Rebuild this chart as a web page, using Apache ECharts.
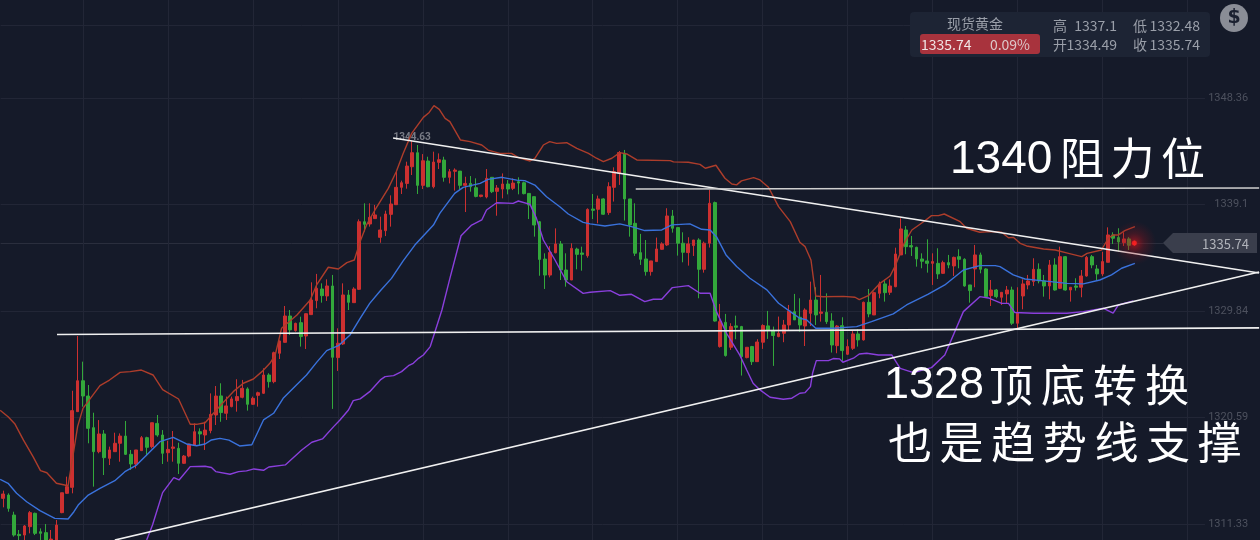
<!DOCTYPE html>
<html><head><meta charset="utf-8">
<style>html,body{margin:0;padding:0;background:#151a29}#c{width:1260px;height:540px}</style>
<script src="https://cdn.jsdelivr.net/npm/echarts@6/dist/echarts.min.js"></script>
</head><body><div id="c"></div>
<script>
// [open, close, low, high]
const candles = [
[1313.54,1313.92,1312.76,1314.21],[1313.83,1312.67,1312.38,1313.98],[1312.09,1310.35,1310.21,1312.38],[1310.41,1310.3,1309.9,1310.79],[1310.35,1311.14,1309.9,1311.22],
[1311.08,1312.3,1310.5,1312.44],[1312.24,1310.5,1310.35,1312.3],[1310.64,1310.5,1309.6,1310.93],[1310.56,1309.8,1309.3,1311.31],[1309.7,1310.0,1309.6,1310.79],
[1309.35,1311.22,1309.3,1311.66],[1312.3,1314.03,1312.25,1314.03],[1313.98,1314.56,1313.92,1315.43],[1314.5,1321.17,1313.98,1322.9],[1321.08,1323.77,1321.08,1327.66],
[1323.77,1322.44,1321.51,1325.43],[1322.44,1319.63,1318.33,1323.4],[1319.69,1317.6,1314.56,1320.99],[1317.6,1319.14,1317.46,1320.35],[1319.14,1317.08,1315.57,1319.48],
[1317.02,1317.75,1316.44,1318.04],[1317.6,1318.33,1317.6,1319.25],[1318.33,1318.96,1316.73,1319.19],[1318.96,1317.37,1317.31,1320.27],[1317.37,1316.53,1316.01,1317.75],
[1316.53,1317.75,1316.15,1317.75],[1317.69,1318.82,1317.69,1318.96],[1318.82,1317.98,1317.22,1318.9],[1318.04,1320.12,1317.89,1320.12],[1320.06,1319.05,1318.9,1320.79],
[1319.05,1317.46,1316.53,1319.48],[1317.51,1317.8,1316.73,1318.56],[1317.89,1318.01,1316.73,1319.4],[1317.89,1316.59,1315.66,1318.38],[1316.59,1317.22,1316.53,1317.31],
[1317.22,1318.27,1317.11,1318.27],[1318.18,1319.34,1318.18,1320.06],[1319.34,1319.14,1318.18,1319.63],[1319.05,1319.48,1317.75,1320.21],[1319.43,1320.85,1319.2,1322.67],
[1320.79,1322.44,1319.92,1323.31],[1322.45,1321.0,1320.2,1323.55],[1320.94,1321.58,1320.36,1322.39],[1321.52,1322.19,1321.46,1322.39],[1322.04,1322.39,1321.08,1323.9],
[1322.33,1323.11,1322.24,1323.84],[1323.06,1321.72,1321.17,1323.2],[1321.72,1322.24,1321.66,1322.39],[1322.5,1322.73,1321.52,1322.82],[1322.68,1324.27,1322.62,1324.85],
[1324.27,1323.69,1323.17,1324.42],[1323.69,1326.21,1323.55,1326.3],[1326.16,1327.23,1325.66,1327.26],[1327.11,1329.4,1327.08,1330.27],[1329.4,1328.19,1327.75,1329.92],
[1328.13,1328.76,1328.04,1328.82],[1328.82,1327.61,1326.74,1329.34],[1327.66,1329.6,1326.53,1329.63],[1329.52,1330.79,1329.49,1332.33],[1330.74,1331.81,1330.07,1333.06],
[1331.75,1331.17,1330.56,1332.24],[1331.14,1332.01,1330.71,1332.59],[1332.01,1325.81,1321.32,1332.97],[1325.78,1327.03,1324.62,1328.33],[1326.97,1331.23,1326.88,1332.24],
[1331.23,1330.59,1329.92,1331.66],[1330.56,1331.75,1330.56,1331.9],[1331.72,1337.6,1331.66,1337.8],[1337.6,1337.37,1336.74,1339.2],[1337.4,1337.98,1337.17,1339.2],
[1337.87,1338.19,1337.84,1339.06],[1336.24,1336.88,1335.77,1338.04],[1336.82,1338.27,1336.35,1338.56],[1338.24,1339.14,1337.17,1339.89],[1339.08,1340.59,1339.05,1341.95],
[1340.59,1340.99,1340.01,1341.17],[1340.93,1342.44,1340.47,1342.82],[1342.38,1343.6,1341.66,1344.63],[1343.6,1340.76,1340.01,1344.27],[1340.76,1342.9,1340.44,1343.48],
[1342.88,1340.64,1340.59,1343.25],[1340.64,1342.79,1340.5,1343.69],[1342.76,1342.99,1342.18,1343.54],[1342.96,1341.46,1341.08,1343.25],[1341.46,1341.95,1340.93,1342.18],
[1341.98,1342.09,1340.3,1342.24],[1342.0,1340.76,1340.41,1342.0],[1340.76,1340.93,1338.44,1341.51],[1340.93,1340.64,1340.21,1341.57],[1340.56,1339.8,1339.72,1341.37],
[1339.8,1339.92,1339.72,1339.92],[1339.75,1341.37,1339.63,1342.18],[1341.46,1340.21,1340.09,1341.46],[1340.24,1340.53,1338.12,1340.79],[1340.44,1340.88,1339.63,1341.8],
[1340.88,1340.44,1339.98,1341.22],[1340.5,1340.96,1340.35,1341.37],[1341.08,1340.96,1339.98,1341.46],[1340.99,1340.04,1339.98,1341.08],[1340.06,1339.05,1337.83,1340.06],
[1339.78,1337.31,1336.3,1339.78],[1337.6,1334.32,1332.9,1337.66],[1334.35,1332.96,1331.75,1334.85],[1332.96,1334.93,1332.76,1335.48],[1334.9,1335.66,1334.85,1337.02],
[1335.66,1333.4,1332.53,1335.92],[1333.4,1332.53,1331.95,1334.85],[1332.53,1335.28,1332.53,1335.72],[1335.22,1334.76,1333.46,1335.34],[1334.88,1334.76,1333.34,1335.43],
[1334.64,1338.67,1334.47,1338.76],[1338.7,1338.59,1337.83,1340.01],[1338.68,1339.58,1337.46,1339.87],[1339.58,1338.25,1338.19,1339.64],[1338.39,1340.65,1338.19,1341.03],
[1340.59,1341.96,1339.35,1342.33],[1341.81,1343.61,1340.8,1343.75],[1343.55,1339.58,1337.7,1343.84],[1339.58,1337.32,1336.3,1339.58],[1337.46,1334.86,1334.62,1339.2],
[1334.91,1334.33,1333.84,1336.54],[1334.36,1333.26,1332.91,1336.01],[1333.26,1334.19,1332.91,1334.19],[1334.13,1335.23,1334.13,1336.22],[1335.2,1335.67,1335.15,1335.81],
[1335.58,1338.1,1335.49,1338.77],[1338.1,1337.03,1336.65,1338.62],[1337.09,1335.73,1334.65,1337.12],[1335.73,1334.94,1334.07,1336.68],[1334.91,1335.67,1333.78,1336.25],
[1335.52,1336.01,1334.62,1336.01],[1336.01,1333.46,1330.94,1336.16],[1333.46,1335.73,1333.17,1335.87],[1335.73,1339.2,1335.35,1340.36],[1339.26,1328.96,1328.91,1339.35],
[1326.74,1328.91,1326.65,1330.45],[1328.85,1325.96,1325.87,1329.58],[1326.68,1328.48,1326.45,1328.77],[1328.54,1328.42,1327.38,1329.43],[1328.48,1325.87,1324.22,1328.54],
[1325.78,1326.68,1325.72,1326.68],[1326.74,1325.43,1325.14,1326.8],[1325.43,1327.14,1325.43,1327.38],[1327.12,1328.57,1326.54,1328.68],[1328.54,1328.19,1327.41,1329.84],
[1328.13,1327.7,1325.06,1328.48],[1327.61,1327.9,1327.55,1329.35],[1327.9,1328.62,1327.12,1329.06],[1328.62,1329.84,1328.13,1330.36],[1329.78,1329.06,1329.06,1331.32],
[1329.29,1328.62,1328.04,1330.94],[1328.53,1329.92,1326.79,1330.07],[1329.63,1330.79,1328.53,1332.39],[1330.79,1329.49,1328.62,1331.9],[1329.63,1329.75,1328.91,1332.97],
[1329.72,1328.91,1328.71,1331.37],[1328.97,1326.88,1326.22,1329.64],[1326.82,1328.53,1326.16,1328.62],[1328.56,1326.39,1325.49,1329.29],[1326.07,1326.74,1326.01,1327.37],
[1326.59,1327.84,1326.45,1328.1],[1327.84,1327.32,1326.74,1328.24],[1327.32,1330.59,1327.26,1330.65],[1330.59,1329.58,1329.29,1331.75],[1329.49,1331.43,1329.49,1331.52],
[1331.37,1332.19,1330.94,1332.39],[1332.19,1331.43,1330.65,1332.53],[1331.46,1332.01,1331.23,1332.59],[1331.95,1334.79,1331.9,1335.34],[1334.71,1336.97,1334.71,1337.9],
[1336.88,1335.43,1334.77,1337.23],[1335.52,1335.4,1334.62,1336.36],[1335.37,1334.36,1333.69,1335.43],[1334.36,1334.16,1333.55,1334.85],[1334.19,1333.98,1333.17,1336.07],
[1333.98,1334.13,1332.1,1334.85],[1333.98,1333.06,1332.62,1335.29],[1333.11,1334.04,1333.06,1334.21],[1334.04,1333.84,1333.55,1334.71],[1333.75,1334.5,1332.88,1334.56],
[1334.56,1334.33,1333.55,1335.2],[1334.33,1332.01,1331.95,1334.42],[1332.1,1331.61,1330.56,1332.1],[1333.49,1334.71,1331.9,1335.58],[1334.71,1333.46,1333.11,1334.91],
[1333.49,1331.08,1331.08,1333.55],[1331.17,1331.66,1330.27,1332.53],[1331.66,1331.08,1330.94,1331.75],[1331.03,1331.46,1330.36,1331.46],[1331.32,1331.66,1330.45,1332.01],
[1331.66,1328.77,1328.62,1331.95],[1328.77,1329.69,1328.33,1331.9],[1331.14,1332.19,1329.98,1332.59],[1332.1,1332.45,1331.72,1332.97],[1332.39,1333.46,1332.01,1334.42],
[1333.46,1332.45,1332.24,1333.98],[1332.45,1332.01,1331.08,1332.97],[1332.01,1333.84,1330.85,1334.27],[1333.84,1331.66,1331.61,1334.42],[1331.81,1334.56,1331.75,1335.43],
[1334.56,1331.66,1331.61,1334.62],[1331.66,1331.9,1330.65,1331.9],[1332.01,1331.9,1331.61,1332.68],[1331.9,1332.88,1331.03,1333.4],[1332.88,1334.5,1332.82,1334.62],
[1334.56,1333.84,1333.55,1334.71],[1333.49,1333.06,1332.53,1333.84],[1333.06,1334.13,1332.88,1334.98],[1334.07,1336.45,1334.07,1337.11],[1336.45,1336.16,1335.66,1336.68],
[1336.22,1335.84,1335.0,1337.03],[1335.78,1336.1,1335.49,1336.68],[1336.1,1335.55,1335.14,1336.25],[1335.6,1335.74,1335.49,1335.95]
];
// bands: [bar number, price]
const upperBand = [[-0.6,1321.2],[0.9,1320.64],[2.2,1320.0],[3.8,1318.6],[5.6,1317.17],[7,1315.95],[8.2,1315.77],[10,1314.85],[12.2,1314.64],[13,1316.9],[14,1319.8],[15,1321.37],[18.2,1323.34],[20,1323.83],[22,1324.5],[23.9,1324.56],[26,1324.7],[28.2,1324.27],[30,1323.0],[33,1322.18],[35.2,1319.98],[36.4,1319.98],[38,1320.12],[39,1320.64],[40.8,1321.57],[43.3,1322.82],[45.2,1323.55],[47.1,1323.92],[48.7,1324.56],[50.2,1325.29],[51.2,1326.0],[52.4,1328.33],[55.3,1329.49],[57.8,1330.79],[59,1332.1],[61.2,1333.64],[63.1,1333.49],[64.7,1334.04],[66.1,1334.27],[67.2,1335.87],[68.4,1337.32],[70,1338.62],[72.5,1340.5],[74,1341.95],[75.3,1343.54],[76.9,1345.28],[79.1,1346.67],[80.2,1347.1],[81.1,1347.69],[82.1,1347.37],[83.2,1346.59],[84.1,1346.3],[86.1,1344.7],[87.9,1344.56],[90.1,1344.27],[91.3,1343.83],[93.5,1343.54],[95.7,1343.54],[97,1343.17],[99.2,1342.88],[100.1,1343.11],[101.7,1344.27],[102.9,1344.56],[104.2,1344.41],[106.1,1344.47],[108,1343.98],[110.2,1343.55],[111.7,1343.12],[113,1342.83],[114.6,1343.12],[116.1,1343.61],[117.4,1343.49],[119.3,1342.97],[125.6,1342.91],[126.2,1342.8],[129,1342.77],[131.2,1342.59],[132.2,1342.25],[134.2,1342.51],[135.9,1341.38],[137.2,1340.88],[138.1,1340.8],[139,1341.15],[141.3,1341.43],[142.5,1341.23],[144.1,1340.6],[146,1338.91],[148.2,1337.61],[150,1335.81],[151,1335.43],[152.1,1334.27],[153,1331.14],[154.4,1331.08],[158.2,1331.11],[160.4,1331.03],[161.2,1330.82],[162.9,1331.17],[165.1,1332.24],[167,1332.88],[167.9,1333.69],[169.8,1335.87],[171.1,1336.88],[173.3,1337.6],[174.8,1338.13],[176.1,1338.13],[177.2,1338.27],[180.2,1337.6],[181.4,1337.03],[183.9,1336.68],[185.8,1336.74],[188,1336.68],[189.3,1336.21],[190.2,1336.24],[191.5,1335.72],[192.7,1335.49],[195.9,1335.23],[198.1,1335.14],[200.6,1334.85],[203.1,1334.56],[204.1,1334.85],[206.8,1335.14],[208.1,1336.16],[209,1336.45],[210,1336.45],[211.2,1336.82],[213.1,1337.17]];
const middleBand = [[-0.6,1315.2],[0.9,1314.85],[2.5,1313.98],[4.4,1313.25],[6.9,1312.47],[9.7,1311.8],[12.2,1311.75],[13.3,1312.38],[14.1,1312.96],[16,1313.83],[18.2,1314.41],[21,1315.08],[22.9,1315.86],[25.1,1316.44],[27,1317.31],[29.5,1318.47],[32,1318.85],[34.5,1318.27],[36.4,1318.12],[38,1318.27],[39.2,1318.62],[40.8,1318.76],[42.5,1318.6],[44.5,1318.1],[46.8,1318.2],[49,1320.36],[50.9,1320.94],[52.7,1322.24],[55.2,1323.4],[57.1,1324.27],[59,1325.37],[60.9,1326.39],[63.1,1326.82],[65.3,1327.75],[67.2,1329.2],[69,1330.5],[71,1331.6],[73.1,1332.67],[75.3,1334.2],[77.5,1335.57],[81,1337.31],[82.2,1338.32],[85,1340.06],[86.6,1340.59],[89.8,1340.93],[91.3,1341.28],[93.9,1341.46],[96.7,1341.22],[98.2,1341.17],[100.1,1340.79],[102.3,1339.77],[104.8,1338.9],[106.4,1338.27],[109.2,1337.54],[110.5,1337.41],[113.3,1337.23],[116.1,1337.41],[118.3,1337.17],[120.8,1336.83],[124,1336.88],[125.9,1337.32],[129.3,1337.41],[131.5,1336.94],[133.1,1336.88],[134.3,1336.3],[136.1,1334.71],[138.1,1333.7],[140.6,1332.68],[143.8,1331.67],[146,1330.51],[148.8,1329.58],[150,1329.2],[151.3,1329.06],[153,1328.33],[156.3,1328.33],[160.7,1328.48],[163.5,1328.91],[167.6,1329.58],[170.1,1330.36],[174.2,1331.3],[177.3,1332.1],[180.8,1333.4],[183.9,1333.78],[186.8,1333.78],[187.7,1333.69],[190.2,1332.97],[192.4,1332.62],[195.9,1332.45],[200.3,1332.24],[203.4,1332.19],[206.5,1332.53],[208.7,1332.97],[210.6,1333.55],[213.1,1333.98]];
const lowerBand = [[27,1309.93],[28.1,1311.23],[30,1314.04],[32.1,1315.35],[33.1,1315.14],[35.2,1316.3],[38,1316.33],[39.2,1316.22],[40,1315.87],[42.7,1315.64],[44.3,1315.87],[45.8,1315.93],[47.2,1316.1],[49,1315.98],[50,1316.27],[53.1,1316.45],[56.2,1317.75],[58.1,1318.42],[60.1,1318.71],[62.2,1319.78],[63.4,1320.36],[65,1321.23],[65.9,1322.04],[67.2,1322.19],[69,1322.82],[71,1323.84],[71.9,1324.13],[73.5,1324.21],[75,1324.56],[76.3,1325.08],[77.2,1325.29],[78.2,1325.72],[79.1,1326.01],[80.4,1326.74],[82.6,1329.92],[84.1,1332.67],[86.2,1336.38],[88.2,1337.31],[90.1,1337.75],[91,1338.62],[92.9,1339.25],[96,1339.19],[97,1339.4],[99.2,1339.11],[100.4,1337.89],[101.7,1336.01],[103.9,1334.27],[106.1,1332.38],[109.2,1331.37],[110.5,1331.46],[114.3,1331.61],[116.1,1331.2],[118.3,1331.29],[120.8,1330.65],[122.4,1330.86],[124,1330.86],[126,1331.87],[129,1332.04],[131.2,1331.38],[133.1,1331.38],[134.3,1329.78],[136.2,1327.9],[138.7,1326],[140,1324.71],[141.2,1323.55],[142.5,1322.97],[144.4,1322.33],[146.9,1322.16],[148.5,1322.25],[150,1322.68],[151,1322.74],[152,1323.26],[152.4,1324.42],[153.1,1325.52],[155.4,1325.52],[156.3,1325.7],[157.5,1325.67],[158.1,1325.38],[160.1,1325.73],[161.2,1326.1],[162.6,1326.16],[164.8,1326.01],[167.3,1326.01],[168.9,1324.85],[171.4,1324.48],[174.8,1324.91],[177.3,1326.01],[180.8,1329.78],[183.9,1331.08],[185.5,1330.97],[188,1330.5],[189.3,1330.5],[190.5,1329.7],[194,1329.64],[200.3,1329.64],[203.4,1329.78],[207.2,1330.07],[209,1329.64],[210,1330.36],[212.8,1330.71]];
const pivotLine = [[10.11,1327.79],[236.5,1328.36]];
const fallingLine = [[73.4,1344.88],[236.5,1333.14]];
const risingLine = [[21,1309.92],[236.5,1333.23]];
const resistLine = [[119.1,1340.45],[236.5,1340.53]];
const tickLabels = [1348.36,1339.1,1329.84,1320.59,1311.33];
const extraGrid = [1354.7];
const gridBars = [15,31,47,63,79,95,111,127,143,159,175,191,207,223];
const lastPrice = 1335.74, lastBar = 213, peakBar = 77, peakPrice = 1344.63;
const priceMin = 1309.92, priceMax = 1356.88, barSlots = 237;
const categories = Array.from({length:barSlots},(_,i)=>String(i));
const note1 = ['1340','阻力位'], note2 = ['1328','顶底转换'], note3 = '也是趋势线支撑';
const quote = {name:'现货黄金',last:'1335.74',pct:'0.09%',high:'1337.1',low:'1332.48',open:'1334.49',close:'1335.74'};

const RED='#cc3030',GREEN='#33a83b',CJK='"Noto Sans CJK SC","Noto Sans",sans-serif',LAT='"Liberation Sans",sans-serif';
const gridCol='#222636', gridEnd=226.3, tagBar=218.5;
const txt=(x,y,t,size,fill,align,font,extra)=>({type:'text',x,y,z:100,style:{text:t,font:(extra||'')+' '+size+'px '+font,fill,textAlign:align||'left',textVerticalAlign:'middle'}});
const charRow=(chars,x0,pitch,y,size)=>Array.from(chars).map((c,i)=>txt(x0+i*pitch,y,c,size,'#fff','center',CJK));
const graphic=[
 {type:'rect',z:90,shape:{x:910,y:12,width:300,height:45,r:4},style:{fill:'#1d2434'}},
 {type:'rect',z:91,shape:{x:920,y:34,width:120,height:20,r:3},style:{fill:'#a8333d'}},
 txt(975,24,quote.name,14,'#9a9fa9','center',CJK),
 txt(921,45,quote.last,14,'#f0e4e4','left',CJK),
 txt(1030,45,quote.pct,14,'#dcc8ca','right',CJK),
 txt(1053,26,'高',14,'#9a9fa9','left',CJK), txt(1117,26,quote.high,14,'#9a9fa9','right',CJK),
 txt(1133,26,'低',14,'#9a9fa9','left',CJK), txt(1200,26,quote.low,14,'#9a9fa9','right',CJK),
 txt(1053,45,'开',14,'#9a9fa9','left',CJK), txt(1117,45,quote.open,14,'#9a9fa9','right',CJK),
 txt(1133,45,'收',14,'#9a9fa9','left',CJK), txt(1200,45,quote.close,14,'#9a9fa9','right',CJK),
 {type:'circle',z:90,shape:{cx:1234,cy:18,r:14},style:{fill:'#8a8d96'}},
 txt(1234,18,'$',19,'#1b2030','center','"DejaVu Sans",sans-serif','bold'),
 {type:'polygon',z:90,shape:{points:[[1163,243],[1173,233],[1257,233],[1257,253],[1173,253]]},style:{fill:'#3a3e4c'}},
 txt(1249,244,String(lastPrice),13,'#b0b3ba','right',CJK),
 txt(950,160,note1[0],46,'#fff','left',LAT),
 ...charRow(note1[1],1082,50.5,158,44),
 txt(884,386,note2[0],45,'#fff','left',LAT),
 ...charRow(note2[1],1011,52,385,44),
 ...charRow(note3,910,51.6,442,44)
];
const bandSeries=(name,data,color)=>({name,type:'line',xAxisIndex:1,data,symbol:'none',z:5,silent:true,lineStyle:{color,width:1.4}});
const trendSeries=(data,color,w)=>({type:'line',xAxisIndex:1,data,symbol:'none',z:8,silent:true,lineStyle:{color,width:w}});
const hLine=(v,end,col)=>[{coord:[-0.5,v],lineStyle:{color:col}},{coord:[end,v]}];
const vLine=b=>[{coord:[b,priceMin]},{coord:[b,priceMax]}];
const chart=echarts.init(document.getElementById('c'),null,{renderer:'canvas'});
chart.setOption({
 animation:false,backgroundColor:'#151a29',graphic,
 grid:{left:0.65,right:0.85,top:0,bottom:0},
 xAxis:[
  {type:'category',data:categories,boundaryGap:true,axisLine:{show:false},axisTick:{show:false},axisLabel:{show:false},splitLine:{show:false}},
  {type:'value',min:-0.5,max:barSlots-0.5,show:false,splitLine:{show:false}}
 ],
 yAxis:{type:'value',position:'right',min:priceMin,max:priceMax,scale:true,axisLine:{show:false},axisTick:{show:false},splitLine:{show:false},
  axisLabel:{inside:true,margin:11,color:'#4d515e',fontSize:11,padding:[2,0,0,0],fontFamily:'Roboto,sans-serif',customValues:tickLabels,formatter:v=>String(v)}},
 series:[
  {type:'line',xAxisIndex:1,data:[],z:1,silent:true,symbol:'none',
   markLine:{silent:true,symbol:'none',animation:false,label:{show:false},z:1,
    lineStyle:{color:gridCol,width:1,type:'solid'},
    data:[...tickLabels.concat(extraGrid).map(v=>hLine(v,gridEnd,gridCol)),hLine(lastPrice,tagBar,'#2a2e3d'),...gridBars.map(vLine)]}},
  {type:'candlestick',data:candles,barWidth:3.2,z:3,silent:true,
   itemStyle:{color:RED,color0:GREEN,borderColor:RED,borderColor0:GREEN,borderWidth:1},
   markPoint:{silent:true,symbol:'circle',symbolSize:0,animation:false,
    data:[{coord:[peakBar,peakPrice],value:peakPrice}],
    label:{show:true,position:'top',distance:0,color:'#787b85',fontSize:10,fontWeight:'bold',fontFamily:'Roboto,sans-serif',formatter:'{c}',offset:[0,2]}}},
  bandSeries('upper',upperBand,'#ad3d2b'),
  bandSeries('middle',middleBand,'#3a72dc'),
  bandSeries('lower',lowerBand,'#8a3fdc'),
  trendSeries(pivotLine,'#f0f0f0',1.7),
  trendSeries(fallingLine,'#f0f0f0',1.7),
  trendSeries(risingLine,'#f0f0f0',1.7),
  trendSeries(resistLine,'#cfcfcf',1.5),
  {type:'scatter',data:[[lastBar,lastPrice]],symbol:'circle',symbolSize:44,z:9,silent:true,
   itemStyle:{color:new echarts.graphic.RadialGradient(0.5,0.5,0.5,[{offset:0,color:'rgba(220,20,30,0.85)'},{offset:0.45,color:'rgba(150,20,30,0.4)'},{offset:1,color:'rgba(120,20,30,0)'}])}},
  {type:'scatter',data:[[lastBar,lastPrice]],symbol:'circle',symbolSize:5,z:10,silent:true,itemStyle:{color:'#ff2020'}}
 ]
});
</script></body></html>
